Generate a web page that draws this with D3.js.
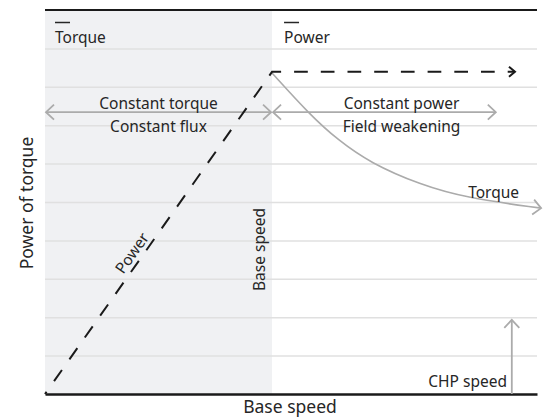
<!DOCTYPE html>
<html>
<head>
<meta charset="utf-8">
<script src="https://cdn.jsdelivr.net/npm/d3@7"></script>
<style>
  html, body { margin: 0; padding: 0; background: #ffffff; }
  svg { display: block; font-family: "Noto Sans", "Open Sans", sans-serif; }
</style>
</head>
<body>
<svg id="chart" width="545" height="417"></svg>
<script>
// ---- data ----
const gridTicks = [1, 2, 3, 4, 5, 6, 7, 8, 9];
const baseSpeed = 1;
const powerX = [0, 1, 2.07];
const powerY = [0, 8.39, 8.39];
const torqueX = [1, 1.167, 1.291, 1.432, 1.652, 1.859, 2.185];
const torqueY = [8.36, 7.27, 6.61, 6.02, 5.45, 5.10, 4.84];
const constTorqueRange = [0, 1];
const constPowerRange = [1, 1.99];
const rangeArrowY = 7.34;
const chpX = 2.056;
const chpTop = 1.93;
const legendLabels = ["Torque", "Power"];
const regionLabels = [["Constant torque", "Constant flux"], ["Constant power", "Field weakening"]];
const xTitle = "Base speed";
const yTitle = "Power of torque";

// ---- layout ----
const svg = d3.select("#chart");
const x = d3.scaleLinear().domain([0, 2.167]).range([45, 537]);
const y = d3.scaleLinear().domain([0, 10]).range([394, 10]);
const textColor = "#262626";
const gray = "#ababab";
const fs = 15.5;

const defs = svg.append("defs");
function chevron(id, color, len, half, sw) {
  defs.append("marker")
    .attr("id", id)
    .attr("markerUnits", "userSpaceOnUse")
    .attr("viewBox", `${-len - 2} ${-half - 2} ${len + 4} ${2 * half + 4}`)
    .attr("refX", 0).attr("refY", 0)
    .attr("markerWidth", len + 4).attr("markerHeight", 2 * half + 4)
    .attr("orient", "auto-start-reverse")
    .append("path")
    .attr("d", `M${-len},${-half} L0,0 L${-len},${half}`)
    .attr("fill", "none").attr("stroke", color).attr("stroke-width", sw)
    .attr("stroke-linejoin", "miter");
}
chevron("grayArrow", gray, 8, 7.5, 1.8);
chevron("blackArrow", "#1a1a1a", 6, 5, 2);

// shaded constant torque region
svg.append("rect")
  .attr("x", x(0)).attr("y", y(10))
  .attr("width", x(baseSpeed) - x(0)).attr("height", y(0) - y(10))
  .attr("fill", "#f0f1f3");

// grid
const yAxis = d3.axisLeft(y).tickValues(gridTicks).tickSize(-(x(2.167) - x(0))).tickFormat("");
const gAxis = svg.append("g").attr("transform", `translate(${x(0)},0)`).call(yAxis);
gAxis.select(".domain").remove();
gAxis.selectAll(".tick line").attr("stroke", "#e0e0e0").attr("stroke-width", 1.5);

// top & bottom lines
svg.append("line").attr("x1", x(0)).attr("x2", x(2.167)).attr("y1", y(10)).attr("y2", y(10))
  .attr("stroke", "#1a1a1a").attr("stroke-width", 2);
const xAxis = d3.axisBottom(x).tickValues([]).tickSizeOuter(0);
const gx = svg.append("g").attr("transform", `translate(0,${y(0)})`).call(xAxis);
gx.select(".domain").attr("stroke", "#1a1a1a").attr("stroke-width", 2.5);

// legend
legendLabels.forEach((lab, i) => {
  const lx = i === 0 ? x(0) + 10 : x(baseSpeed) + 12;
  svg.append("line").attr("x1", lx).attr("x2", lx + 15).attr("y1", 22.5).attr("y2", 22.5)
    .attr("stroke", textColor).attr("stroke-width", 1.5);
  svg.append("text").attr("x", lx).attr("y", 43).attr("font-size", fs).attr("fill", textColor).text(lab);
});

// range arrows
[constTorqueRange, constPowerRange].forEach(r => {
  svg.append("line").attr("x1", x(r[0]) + 1).attr("x2", x(r[1]) - 1)
    .attr("y1", y(rangeArrowY)).attr("y2", y(rangeArrowY))
    .attr("stroke", gray).attr("stroke-width", 1.8)
    .attr("marker-start", "url(#grayArrow)").attr("marker-end", "url(#grayArrow)");
});
regionLabels.forEach((labs, i) => {
  const cx = i === 0 ? 158.5 : 401.5;
  svg.append("text").attr("x", cx).attr("y", 108.5).attr("text-anchor", "middle")
    .attr("font-size", fs).attr("fill", textColor).text(labs[0]);
  svg.append("text").attr("x", cx).attr("y", 131.5).attr("text-anchor", "middle")
    .attr("font-size", fs).attr("fill", textColor).text(labs[1]);
});

// torque curve
const torqueLine = d3.line().x(d => x(d[0])).y(d => y(d[1])).curve(d3.curveBasis);
svg.append("path").datum(torqueX.map((v, i) => [v, torqueY[i]]))
  .attr("d", torqueLine).attr("fill", "none").attr("stroke", gray).attr("stroke-width", 1.6)
  .attr("marker-end", "url(#grayArrow)");
svg.append("text").attr("x", 519).attr("y", 197.5).attr("text-anchor", "end")
  .attr("font-size", fs).attr("fill", textColor).text("Torque");

// power dashed line
const powerLine = d3.line().x(d => x(d[0])).y(d => y(d[1]));
svg.append("path").datum(powerX.map((v, i) => [v, powerY[i]]))
  .attr("d", powerLine).attr("fill", "none").attr("stroke", "#1a1a1a").attr("stroke-width", 2)
  .attr("stroke-dasharray", "13.7,13").attr("stroke-dashoffset", 11);
// power arrowhead
svg.append("path").datum([[powerX[2] - 0.01, powerY[2]], [powerX[2], powerY[2]]])
  .attr("d", powerLine).attr("fill", "none").attr("stroke", "none")
  .attr("marker-end", "url(#blackArrow)");
// Power label along the line
const ang = -Math.atan2(y(0) - y(powerY[1]), x(powerX[1]) - x(0)) * 180 / Math.PI;
svg.append("text").attr("transform", `translate(132,253) rotate(${ang})`)
  .attr("text-anchor", "middle").attr("dy", "0.35em")
  .attr("font-size", fs).attr("fill", textColor).text("Power");

// Base speed vertical label
svg.append("text").attr("transform", `translate(265,249.5) rotate(-90)`)
  .attr("text-anchor", "middle").attr("font-size", fs).attr("fill", textColor).text("Base speed");

// CHP speed
svg.append("line").attr("x1", x(chpX)).attr("x2", x(chpX)).attr("y1", y(0)).attr("y2", y(chpTop))
  .attr("stroke", gray).attr("stroke-width", 1.8).attr("marker-end", "url(#grayArrow)");
svg.append("text").attr("x", 507).attr("y", 387).attr("text-anchor", "end")
  .attr("font-size", fs).attr("fill", textColor).text("CHP speed");

// axis titles
svg.append("text").attr("x", 290).attr("y", 413).attr("text-anchor", "middle")
  .attr("font-size", 17.5).attr("fill", textColor).text(xTitle);
svg.append("text").attr("transform", `translate(33,203) rotate(-90)`)
  .attr("text-anchor", "middle").attr("font-size", 17.5).attr("fill", textColor).text(yTitle);
</script>
</body>
</html>
